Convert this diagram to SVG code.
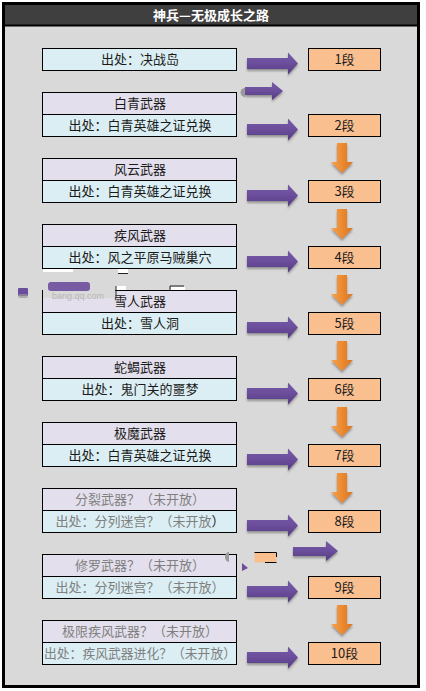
<svg xmlns="http://www.w3.org/2000/svg" width="426" height="691" viewBox="0 0 426 691">
<style>
.hd{fill:#e4dfec;stroke:#000;stroke-width:1}
.src{fill:#daeef3;stroke:#000;stroke-width:1}
.lv{fill:#fabf8f;stroke:#000;stroke-width:1}
text{font-family:"Microsoft YaHei","Noto Sans CJK SC","Noto Sans",sans-serif;font-size:13px;fill:#1a1a1a;text-anchor:middle}
.g{fill:#7f7f7f}
.title{fill:#fff;font-weight:bold;font-size:13px}
</style>
<defs>
<linearGradient id="pg" x1="0" y1="0" x2="0" y2="1">
<stop offset="0" stop-color="#7459a6"/>
<stop offset="0.5" stop-color="#6b4e9c"/>
<stop offset="1" stop-color="#55397f"/>
</linearGradient>
<linearGradient id="og" x1="0" y1="0" x2="1" y2="0">
<stop offset="0" stop-color="#f4a24e"/>
<stop offset="0.5" stop-color="#ec8a30"/>
<stop offset="1" stop-color="#d9741e"/>
</linearGradient>
<filter id="sh" x="-20%" y="-40%" width="140%" height="190%">
<feDropShadow dx="0" dy="2" stdDeviation="1.2" flood-color="#555" flood-opacity="0.55"/>
</filter>
<path id="pa" d="M0,-5.5 H41 V-11 L51,0 L41,11 V5.5 H0 Z" fill="url(#pg)" filter="url(#sh)"/>
<path id="oa" d="M-5,0 H5 V19 H11 L0,30 L-11,19 H-5 Z" fill="url(#og)" filter="url(#sh)"/>
</defs>
<rect x="0" y="0" width="426" height="691" fill="#fff"/>
<rect x="3.5" y="3.5" width="415" height="683" fill="#d9d9d9" stroke="#000" stroke-width="3"/>
<rect x="5" y="5" width="412" height="20" fill="#3f3f3f"/>
<line x1="5" y1="25.5" x2="417" y2="25.5" stroke="#000" stroke-width="2"/>
<text class="title" x="211" y="19.5">神兵—无极成长之路</text>

<g id="connectors">
<use href="#pa" x="247" y="63.5"/>
<use href="#pa" x="247" y="129.5"/>
<use href="#pa" x="247" y="195.5"/>
<use href="#pa" x="247" y="261.5"/>
<use href="#pa" x="247" y="327.5"/>
<use href="#pa" x="247" y="393.5"/>
<use href="#pa" x="247" y="459.5"/>
<use href="#pa" x="247" y="525.5"/>
<use href="#pa" x="247" y="591.5"/>
<use href="#pa" x="247" y="657.5"/>
<use href="#oa" x="342" y="143"/>
<use href="#oa" x="342" y="209"/>
<use href="#oa" x="342" y="275"/>
<use href="#oa" x="342" y="341"/>
<use href="#oa" x="342" y="407"/>
<use href="#oa" x="342" y="473"/>
<use href="#oa" x="342" y="605"/>
</g>

<g id="row1">
<rect class="src" x="42.5" y="48.5" width="194" height="22"/>
<text x="140" y="64">出处：决战岛</text>
<rect class="lv" x="308.5" y="48.5" width="72" height="22"/>
<text x="344.5" y="64">1段</text>
</g>
<g id="row2">
<rect class="hd" x="42.5" y="92.5" width="194" height="22"/>
<text x="140" y="108">白青武器</text>
<rect class="src" x="42.5" y="114.5" width="194" height="22"/>
<text x="140" y="130">出处：白青英雄之证兑换</text>
<rect class="lv" x="308.5" y="114.5" width="72" height="22"/>
<text x="344.5" y="130">2段</text>
</g>
<g id="row3">
<rect class="hd" x="42.5" y="158.5" width="194" height="22"/>
<text x="140" y="174">风云武器</text>
<rect class="src" x="42.5" y="180.5" width="194" height="22"/>
<text x="140" y="196">出处：白青英雄之证兑换</text>
<rect class="lv" x="308.5" y="180.5" width="72" height="22"/>
<text x="344.5" y="196">3段</text>
</g>
<g id="row4">
<rect class="hd" x="42.5" y="224.5" width="194" height="22"/>
<text x="140" y="240">疾风武器</text>
<rect class="src" x="42.5" y="246.5" width="194" height="22"/>
<text x="140" y="262">出处：风之平原马贼巢穴</text>
<rect class="lv" x="308.5" y="246.5" width="72" height="22"/>
<text x="344.5" y="262">4段</text>
</g>
<g id="row5">
<rect class="hd" x="42.5" y="290.5" width="194" height="22"/>
<text x="140" y="306">雪人武器</text>
<rect class="src" x="42.5" y="312.5" width="194" height="22"/>
<text x="140" y="328">出处：雪人洞</text>
<rect class="lv" x="308.5" y="312.5" width="72" height="22"/>
<text x="344.5" y="328">5段</text>
</g>
<g id="row6">
<rect class="hd" x="42.5" y="356.5" width="194" height="22"/>
<text x="140" y="372">蛇蝎武器</text>
<rect class="src" x="42.5" y="378.5" width="194" height="22"/>
<text x="140" y="394">出处：鬼门关的噩梦</text>
<rect class="lv" x="308.5" y="378.5" width="72" height="22"/>
<text x="344.5" y="394">6段</text>
</g>
<g id="row7">
<rect class="hd" x="42.5" y="422.5" width="194" height="22"/>
<text x="140" y="438">极魔武器</text>
<rect class="src" x="42.5" y="444.5" width="194" height="22"/>
<text x="140" y="460">出处：白青英雄之证兑换</text>
<rect class="lv" x="308.5" y="444.5" width="72" height="22"/>
<text x="344.5" y="460">7段</text>
</g>
<g id="row8">
<rect class="hd" x="42.5" y="488.5" width="194" height="22"/>
<text class="g" x="140" y="504">分裂武器？（未开放）</text>
<rect class="src" x="42.5" y="510.5" width="194" height="22"/>
<text class="g" x="140" y="526">出处：分列迷宫？（未开放<tspan fill="#1a1a1a">）</tspan></text>
<rect class="lv" x="308.5" y="510.5" width="72" height="22"/>
<text x="344.5" y="526">8段</text>
</g>
<g id="row9">
<rect class="hd" x="42.5" y="554.5" width="194" height="22"/>
<text class="g" x="140" y="570">修罗武器？（未开放）</text>
<rect class="src" x="42.5" y="576.5" width="194" height="22"/>
<text class="g" x="140" y="592">出处：分列迷宫？（未开放）</text>
<rect class="lv" x="308.5" y="576.5" width="72" height="22"/>
<text x="344.5" y="592">9段</text>
</g>
<g id="row10">
<rect class="hd" x="42.5" y="620.5" width="194" height="22"/>
<text class="g" x="140" y="636">极限疾风武器？（未开放）</text>
<rect class="src" x="42.5" y="642.5" width="194" height="22"/>
<text class="g" x="140" y="658" textLength="192" lengthAdjust="spacingAndGlyphs">出处：疾风武器进化？（未开放）</text>
<rect class="lv" x="308.5" y="642.5" width="72" height="22"/>
<text x="344.5" y="658">10段</text>
</g>

<g id="artifacts">
<path d="M245,87 H272 V82 L283,91 L272,100 V95 H245 Z" fill="url(#pg)" filter="url(#sh)"/>
<path d="M245,88 A4.5,4.5 0 0 0 245,97 Z" fill="#9a9a9a"/>
<rect x="43" y="269" width="30" height="3" fill="#fff"/>
<rect x="118" y="269" width="10" height="5" fill="#fff"/>
<line x1="118" y1="273.5" x2="128" y2="273.5" stroke="#222" stroke-width="1"/>
<rect x="43" y="286" width="72" height="12" fill="#d9d9d9"/>
<rect x="48" y="282" width="42" height="9" rx="3" fill="#6b4e9c" opacity="0.9"/>
<rect x="18" y="288" width="10" height="8" rx="1" fill="#6b4e9c"/>
<rect x="18" y="294" width="10" height="4" rx="2" fill="#999" opacity="0.7"/>
<text x="78" y="299" style="font-family:'Liberation Sans',sans-serif;font-size:9px;fill:#b5b5b5">bang.qq.com</text>
<rect x="116" y="286" width="10" height="4" fill="#fff"/>
<path d="M116,286 V298 M170,290 V286 H184" stroke="#222" stroke-width="1" fill="none"/>
<rect x="171" y="287" width="14" height="3" fill="#fff"/>
<path d="M229,552 A4,5 0 0 0 229,562 Z" fill="#9a9a9a"/>
<path d="M242,563 L248,568 L242,571 Z" fill="#6b4e9c"/>
<rect x="254.5" y="552.5" width="22" height="10" fill="#fabf8f"/>
<path d="M254.5,552.5 H276.5 V557 M276.5,562.5 H265" stroke="#000" stroke-width="1" fill="none"/>
<path d="M293,547 H326 V541 L338,551 L326,561 V556 H293 Z" fill="url(#pg)" filter="url(#sh)"/>
</g>
</svg>
